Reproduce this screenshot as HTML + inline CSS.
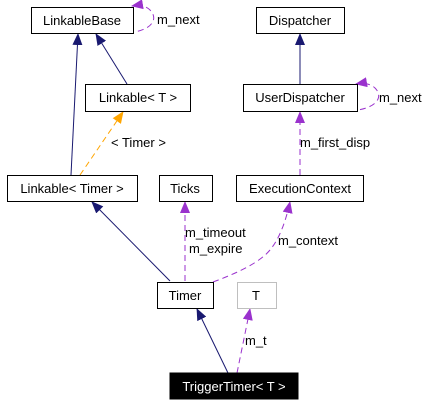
<!DOCTYPE html><html><head><style>body{margin:0;background:#fff}</style></head><body>
<svg width="432" height="405" xmlns="http://www.w3.org/2000/svg" font-family="Liberation Sans, sans-serif" font-size="13">
<defs>
<marker id="n" markerWidth="12" markerHeight="12" refX="11" refY="6" orient="auto" markerUnits="userSpaceOnUse" viewBox="0 0 12 12"><path d="M0,1L12,6L0,11z" fill="#191970"/></marker>
<marker id="p" markerWidth="12" markerHeight="12" refX="11" refY="6" orient="auto" markerUnits="userSpaceOnUse" viewBox="0 0 12 12"><path d="M0,1L12,6L0,11z" fill="#9a32cd"/></marker>
<marker id="o" markerWidth="12" markerHeight="12" refX="11" refY="6" orient="auto" markerUnits="userSpaceOnUse" viewBox="0 0 12 12"><path d="M0,1L12,6L0,11z" fill="#ffa500"/></marker>
</defs>
<g fill="none" stroke-width="1">
<path d="M71,175L78,34" stroke="#191970" marker-end="url(#n)"/>
<path d="M127,84L96,34" stroke="#191970" marker-end="url(#n)"/>
<path d="M300,84L300,34" stroke="#191970" marker-end="url(#n)"/>
<path d="M170,281L92,202" stroke="#191970" marker-end="url(#n)"/>
<path d="M228,373L197,309" stroke="#191970" marker-end="url(#n)"/>
<path d="M80,175L123,112" stroke="#ffa500" stroke-dasharray="6,4" marker-end="url(#o)"/>
<path d="M118,33C150,34 160,20 150,10C145,5 138,5 132,6" stroke="#9a32cd" stroke-dasharray="6,4" marker-end="url(#p)"/>
<path d="M340,111C375,112 385,98 375,88C370,83 362,83 356,84" stroke="#9a32cd" stroke-dasharray="6,4" marker-end="url(#p)"/>
<path d="M300,175L300,112" stroke="#9a32cd" stroke-dasharray="6,4" marker-end="url(#p)"/>
<path d="M185,281L185,202" stroke="#9a32cd" stroke-dasharray="6,4" marker-end="url(#p)"/>
<path d="M213,282C240,272 260,262 270,250C280,238 286,220 290,202" stroke="#9a32cd" stroke-dasharray="6,4" marker-end="url(#p)"/>
<path d="M237,373L250,309" stroke="#9a32cd" stroke-dasharray="6,4" marker-end="url(#p)"/>
</g>
<g stroke="#000" fill="#fff">
<rect x="31.5" y="7.5" width="102" height="26"/>
<rect x="256.5" y="7.5" width="88" height="26"/>
<rect x="85.5" y="84.5" width="105" height="27"/>
<rect x="243.5" y="84.5" width="114" height="27"/>
<rect x="7.5" y="175.5" width="130" height="26"/>
<rect x="159.5" y="175.5" width="53" height="26"/>
<rect x="236.5" y="175.5" width="127" height="26"/>
<rect x="157.5" y="282.5" width="56" height="26"/>
<rect x="237.5" y="282.5" width="39" height="26" stroke="#bfbfbf"/>
<rect x="170" y="373" width="128" height="26" fill="#000"/>
</g>
<g text-anchor="middle">
<text x="82" y="25">LinkableBase</text>
<text x="300" y="25">Dispatcher</text>
<text x="138" y="102">Linkable&lt; T &gt;</text>
<text x="300" y="102">UserDispatcher</text>
<text x="72" y="193">Linkable&lt; Timer &gt;</text>
<text x="185" y="193">Ticks</text>
<text x="300" y="193">ExecutionContext</text>
<text x="185" y="300">Timer</text>
<text x="256" y="300">T</text>
<text x="234" y="391" fill="#fff">TriggerTimer&lt; T &gt;</text>
</g>
<text x="157" y="24">m_next</text>
<text x="379" y="102">m_next</text>
<text x="111" y="147">&lt; Timer &gt;</text>
<text x="300" y="147">m_first_disp</text>
<text x="185" y="237">m_timeout</text>
<text x="189" y="253">m_expire</text>
<text x="278" y="245">m_context</text>
<text x="245" y="345">m_t</text>
</svg>
</body></html>
